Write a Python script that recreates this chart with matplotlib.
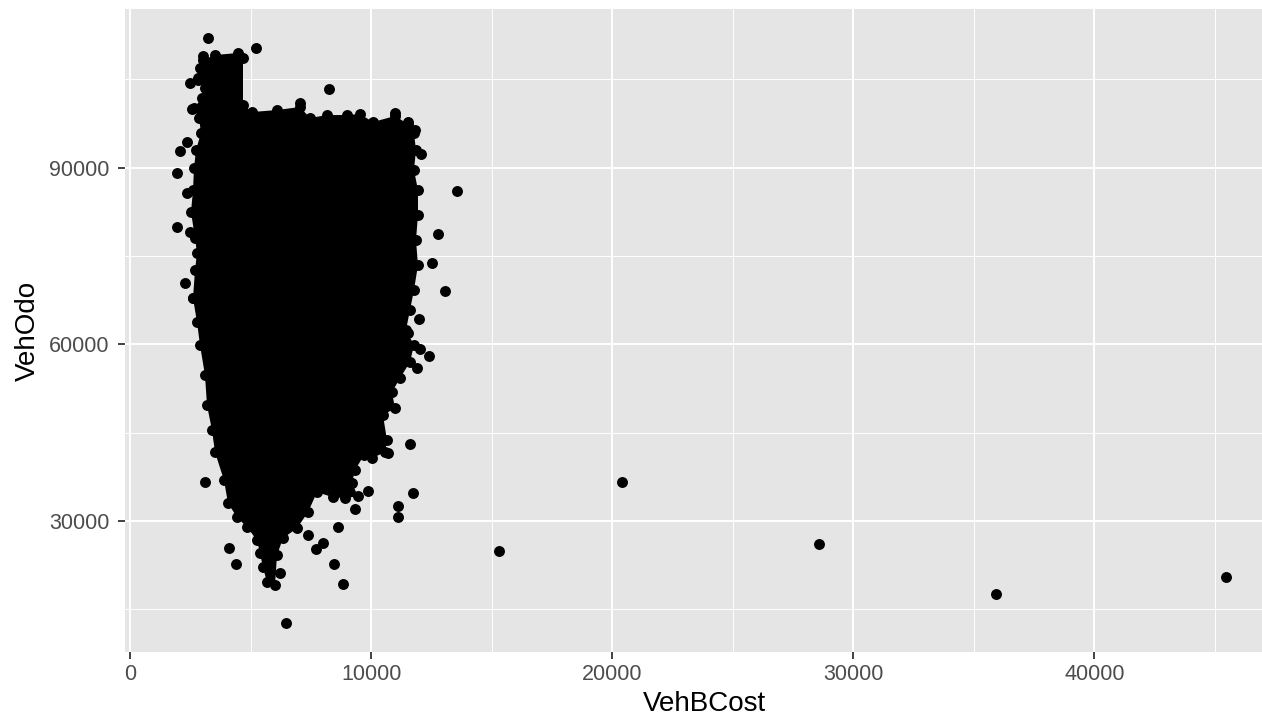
import numpy as np
import matplotlib.pyplot as plt
from matplotlib.ticker import MultipleLocator

# Outline of the solid mass of overlapping points (VehBCost, VehOdo)
blob_x = [3016, 3514, 4469, 4676, 4676, 5049, 6087, 7041, 7456, 8161,
          8991, 9530, 10070, 10983, 11522, 11771, 11854, 11771, 11937, 11937,
          11854, 11937, 11771, 11605, 11439, 11771, 11605, 11190, 10858, 10983,
          10485, 10651, 10568, 10028, 9696, 9323, 9198, 9447, 8908, 8410,
          7746, 7373, 6917, 6336, 6087, 6004, 5672, 5506, 5381, 5257,
          4842, 4427, 4054, 3888, 3514, 3390, 3182, 3099, 2892, 2768,
          2602, 2685, 2768, 2685, 2519, 2602, 2643, 2726, 2933, 2851,
          2643, 2975, 3099, 2809, 2892]
blob_y = [108311, 109161, 109501, 108651, 100662, 99472, 99812, 100322, 98452, 98962,
          98962, 99132, 97772, 98792, 97432, 95903, 93013, 89613, 86214, 81964,
          77715, 73465, 69216, 65816, 62417, 59867, 56977, 54258, 51878, 49158,
          47968, 43719, 41679, 40659, 41169, 38619, 36410, 34200, 33860, 34030,
          34880, 31480, 28761, 27061, 24171, 19072, 19582, 22131, 24511, 26721,
          28931, 30630, 33010, 36920, 41679, 45419, 49668, 54767, 59867, 63776,
          67856, 72615, 75505, 78055, 82474, 86214, 89953, 93013, 95903, 98452,
          100152, 101852, 103552, 104912, 106951]

# Individually visible points around the mass and the far outliers
pts_x = [3224, 5215, 8244, 7041, 3016, 2477, 2809, 2560, 2353, 2062,
         1938, 2353, 1938, 2477, 2270, 2602, 13555, 12767, 12518, 13057,
         11978, 11522, 12020, 12393, 11895, 11605, 11729, 11107, 11107, 9323,
         9862, 10692, 3099, 4095, 4386, 6211, 6460, 7373, 7995, 7705,
         8618, 8452, 8825, 12061, 11812, 11522, 10983, 15298, 20401, 28577,
         35917, 45468]
pts_y = [112051, 110351, 103382, 101002, 108991, 104402, 105252, 99982, 94373, 92843,
         89103, 85704, 79925, 79075, 70406, 67856, 86044, 78735, 73805, 69046,
         64286, 61907, 59187, 57997, 55957, 43039, 34710, 32500, 30630, 31990,
         35050, 41509, 36580, 25361, 22641, 21111, 12612, 27571, 26211, 25191,
         28931, 22641, 19242, 92333, 96413, 97772, 99302, 24851, 36580, 26041,
         17542, 20432]

fig = plt.figure(figsize=(12.62, 7.18), dpi=100)
# panel runs a little past the right edge, as in the cropped original
ax = fig.add_axes([125 / 1262, 66 / 718, 1158 / 1262, 643 / 718])
ax.set_facecolor('#E5E5E5')

ax.fill(blob_x, blob_y, color='black', lw=0, zorder=2)
ax.scatter(blob_x, blob_y, s=62, color='black', lw=0, zorder=3)
ax.scatter(pts_x, pts_y, s=62, color='black', lw=0, zorder=3)

ax.set_xlim(-220, 47830)
ax.set_ylim(7732, 116976)

ax.xaxis.set_major_locator(MultipleLocator(10000))
ax.xaxis.set_minor_locator(MultipleLocator(5000))
ax.set_yticks([30000, 60000, 90000])
ax.set_yticks([15000, 45000, 75000, 105000], minor=True)

ax.grid(which='major', color='white', lw=1.4)
ax.grid(which='minor', color='white', lw=0.7)
ax.set_axisbelow(True)

for s in ax.spines.values():
    s.set_visible(False)

font = 'Liberation Sans'
ax.tick_params(which='major', length=5, width=1.3, color='#333333',
               labelsize=15.5, labelcolor='#4D4D4D')
ax.tick_params(which='minor', length=0)
ax.tick_params(axis='x', pad=4)
ax.tick_params(axis='y', pad=6)
for lab in ax.get_xticklabels() + ax.get_yticklabels():
    lab.set_family(font)

ax.set_xlabel('VehBCost', fontsize=20, family=font, labelpad=4)
ax.set_ylabel('VehOdo', fontsize=20, family=font, labelpad=6)

fig.savefig('out.png', dpi=100)
